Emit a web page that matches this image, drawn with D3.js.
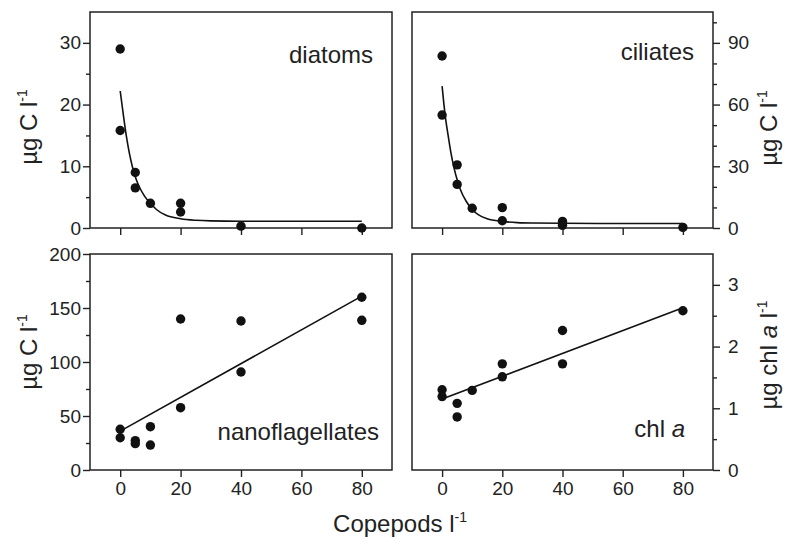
<!DOCTYPE html>
<html>
<head>
<meta charset="utf-8">
<script src="https://cdn.jsdelivr.net/npm/d3@7"></script>
<style>
  body { margin: 0; background: #fff; }
  svg text { font-family: "Liberation Sans", Arial, Helvetica, sans-serif; fill: #222; }
</style>
</head>
<body>
<div id="app"></div>
<script>
// data --------------------------------------------------------------
var xTicks = [0, 20, 40, 60, 80];

// diatoms
var diatomX = [0, 0, 5, 5, 10, 20, 20, 40, 80];
var diatomY = [29.0, 15.8, 9.0, 6.5, 4.0, 4.0, 2.6, 0.3, 0.0];
var diatomFitX = [0, 1, 2, 3, 4, 5, 6, 8, 10, 12, 15, 20, 25, 30, 40, 60, 80];
var diatomFitY = [22.2, 18.5, 15.0, 12.2, 10.0, 8.3, 7.0, 5.2, 4.0, 3.0, 2.1, 1.5, 1.25, 1.15, 1.1, 1.1, 1.1];

// ciliates
var ciliateX = [0, 0, 5, 5, 10, 20, 20, 40, 40, 80];
var ciliateY = [83.6, 54.9, 30.7, 21.2, 9.6, 9.9, 3.5, 3.2, 1.3, 0.3];
var ciliateFitX = [0, 1, 2, 3, 4, 5, 6, 8, 10, 12, 15, 20, 25, 30, 40, 60, 80];
var ciliateFitY = [69, 55, 45, 36, 29, 23.5, 19, 13, 9, 6.5, 4.5, 3.2, 2.6, 2.4, 2.3, 2.2, 2.2];

// nanoflagellates
var nanoX = [0, 0, 5, 5, 10, 10, 20, 20, 40, 40, 80, 80];
var nanoY = [37.7, 29.9, 27.2, 24.4, 40.1, 23.1, 139.8, 57.7, 138, 90.7, 160, 138.6];
var nanoFitX = [0, 80];
var nanoFitY = [36, 161];

// chl a
var chlX = [0, 0, 5, 5, 10, 20, 20, 40, 40, 80];
var chlY = [1.30, 1.19, 1.08, 0.86, 1.29, 1.72, 1.51, 2.26, 1.72, 2.58];
var chlFitX = [0, 80];
var chlFitY = [1.15, 2.63];

// layout --------------------------------------------------------------
var W = 787, H = 537;
var colL = [90, 392], colR = [412, 713];
var rowT = [12, 228], rowB = [254, 470];

var svg = d3.select("#app").append("svg")
    .attr("width", W)
    .attr("height", H);

function zip(a, b) { return a.map(function(v, i) { return [v, b[i]]; }); }

function panel(opt) {
  var x = d3.scaleLinear().domain([-10, 90]).range(opt.cols);
  var y = d3.scaleLinear().domain(opt.yDomain).range([opt.rows[1], opt.rows[0]]);
  var g = svg.append("g");

  // x ticks
  var xa = g.append("g")
      .attr("transform", "translate(0," + opt.rows[1] + ")")
      .call(d3.axisBottom(x).tickValues(xTicks).tickSize(7).tickPadding(5)
        .tickFormat(opt.xLabels ? d3.format("~g") : ""));
  xa.select(".domain").remove();
  xa.selectAll("line").attr("stroke", "#222").attr("stroke-width", 1.4);
  xa.selectAll("text").attr("font-size", 19).attr("fill", "#222")
    .attr("font-family", "Liberation Sans, Arial, sans-serif");

  // y ticks, major and minor
  var side = opt.right ? d3.axisRight : d3.axisLeft;
  var yPos = opt.right ? opt.cols[1] : opt.cols[0];
  var ya = g.append("g")
      .attr("transform", "translate(" + yPos + ",0)")
      .call(side(y).tickValues(opt.yMajor).tickSize(7).tickPadding(opt.right ? 8 : 2)
        .tickFormat(d3.format("~g")));
  var ym = g.append("g")
      .attr("transform", "translate(" + yPos + ",0)")
      .call(side(y).tickValues(opt.yMinor).tickSize(4).tickFormat(""));
  [ya, ym].forEach(function(a) {
    a.select(".domain").remove();
    a.selectAll("line").attr("stroke", "#222").attr("stroke-width", 1.4);
  });
  ya.selectAll("text").attr("font-size", 19).attr("fill", "#222")
    .attr("font-family", "Liberation Sans, Arial, sans-serif");

  // frame
  g.append("rect")
    .attr("x", opt.cols[0]).attr("y", opt.rows[0])
    .attr("width", opt.cols[1] - opt.cols[0])
    .attr("height", opt.rows[1] - opt.rows[0])
    .attr("fill", "none").attr("stroke", "#222").attr("stroke-width", 1.5);

  // fitted line
  var line = d3.line()
      .x(function(d) { return x(d[0]); })
      .y(function(d) { return y(d[1]); })
      .curve(d3.curveMonotoneX);
  g.append("path")
    .datum(zip(opt.fitX, opt.fitY))
    .attr("d", line)
    .attr("fill", "none").attr("stroke", "#111").attr("stroke-width", 1.6);

  // points
  g.selectAll("circle")
    .data(zip(opt.px, opt.py))
    .enter().append("circle")
      .attr("cx", function(d) { return x(d[0]); })
      .attr("cy", function(d) { return y(d[1]); })
      .attr("r", 4.7)
      .attr("fill", "#111");

  // panel name
  var t = g.append("text")
    .attr("x", opt.nameX).attr("y", opt.nameY)
    .attr("text-anchor", "end")
    .attr("font-size", 24);
  opt.name.forEach(function(p) {
    t.append("tspan").text(p[0]).attr("font-style", p[1] ? "italic" : null);
  });
}

panel({ cols: colL, rows: rowT, yDomain: [0, 35], yMajor: [0, 10, 20, 30], yMinor: [5, 15, 25],
        px: diatomX, py: diatomY, fitX: diatomFitX, fitY: diatomFitY,
        name: [["diatoms"]], nameX: 373, nameY: 63 });
panel({ cols: colR, rows: rowT, yDomain: [0, 105], yMajor: [0, 30, 60, 90],
        yMinor: [10, 20, 40, 50, 70, 80, 100], right: true,
        px: ciliateX, py: ciliateY, fitX: ciliateFitX, fitY: ciliateFitY,
        name: [["ciliates"]], nameX: 694, nameY: 60 });
panel({ cols: colL, rows: rowB, yDomain: [0, 200], yMajor: [0, 50, 100, 150, 200],
        yMinor: [25, 75, 125, 175], xLabels: true,
        px: nanoX, py: nanoY, fitX: nanoFitX, fitY: nanoFitY,
        name: [["nanoflagellates"]], nameX: 379, nameY: 440 });
panel({ cols: colR, rows: rowB, yDomain: [0, 3.5], yMajor: [0, 1, 2, 3],
        yMinor: [0.5, 1.5, 2.5], right: true, xLabels: true,
        px: chlX, py: chlY, fitX: chlFitX, fitY: chlFitY,
        name: [["chl "], ["a", true]], nameX: 685, nameY: 437 });

// axis titles
function unitLabel(x, y, parts, rotate) {
  var t = svg.append("text")
    .attr("transform", "translate(" + x + "," + y + ")" + (rotate ? " rotate(-90)" : ""))
    .attr("text-anchor", "middle")
    .attr("font-size", 24);
  parts.forEach(function(p) { t.append("tspan").text(p).attr("font-style", p === "a" ? "italic" : null); });
  t.append("tspan").text("-1").attr("font-size", 14).attr("dy", -10);
  return t;
}
unitLabel(37, 127, ["µg C l"], true);
unitLabel(37, 352, ["µg C l"], true);
unitLabel(777, 128, ["µg C l"], true);
unitLabel(777, 355, ["µg chl ", "a", " l"], true);
unitLabel(400, 532, ["Copepods l"], false);
</script>
</body>
</html>
